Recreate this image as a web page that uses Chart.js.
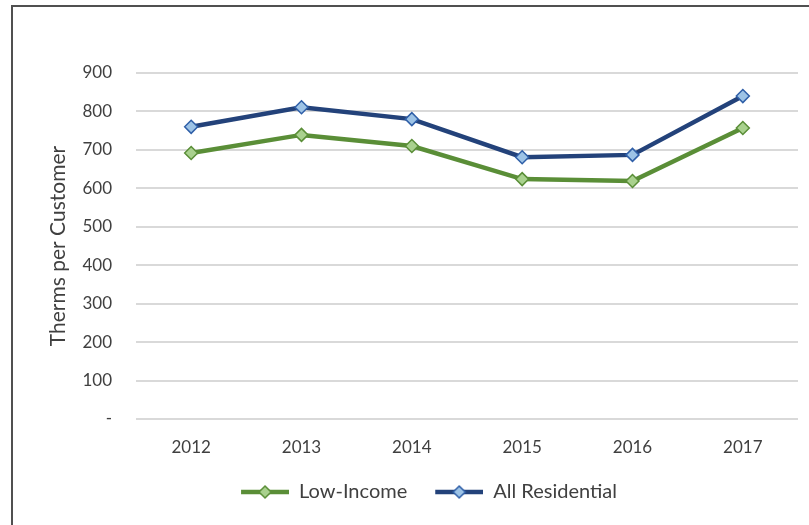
<!DOCTYPE html>
<html>
<head>
<meta charset="utf-8">
<script src="https://cdn.jsdelivr.net/npm/chart.js@4/dist/chart.umd.min.js"></script>
<style>
  html, body { margin: 0; padding: 0; background: #fff; overflow: hidden; }
  #wrap { position: relative; width: 809px; height: 525px; }
  #frame { position: absolute; left: 11px; top: 5px; width: 820px; height: 540px;
           border-left: 2px solid #505050; border-top: 2px solid #505050; box-sizing: border-box; }
  canvas { position: absolute; left: 0; top: 0; }
</style>
</head>
<body>
<div id="wrap">
  <div id="frame"></div>
  <canvas id="c" width="809" height="525"></canvas>
</div>
<script>
const years = ['2012', '2013', '2014', '2015', '2016', '2017'];
const lowIncome = [692, 739, 710, 624, 619, 757];
const allResidential = [760, 811, 780, 681, 687, 840];
const yTitle = 'Therms per Customer';

const FONT = 'Lato, "Open Sans", sans-serif';
const GREEN = '#5A8E37', GREEN_FILL = '#A9D18E';
const BLUE = '#23427A', BLUE_FILL = '#9DC3E6', BLUE_EDGE = '#2F5FA8';

function legendIcon(line, fill, edge) {
  const c = document.createElement('canvas');
  c.width = 66; c.height = 16;
  const g = c.getContext('2d');
  g.strokeStyle = line; g.lineWidth = 4.5;
  g.beginPath(); g.moveTo(18, 8); g.lineTo(66, 8); g.stroke();
  g.fillStyle = fill; g.strokeStyle = edge; g.lineWidth = 1.5;
  g.beginPath(); g.moveTo(42, 2); g.lineTo(48, 8); g.lineTo(42, 14); g.lineTo(36, 8); g.closePath();
  g.fill(); g.stroke();
  return c;
}
const icons = [legendIcon(GREEN, GREEN_FILL, GREEN), legendIcon(BLUE, BLUE_FILL, BLUE_EDGE)];

new Chart(document.getElementById('c'), {
  type: 'line',
  data: {
    labels: years,
    datasets: [
      { label: 'Low-Income', data: lowIncome, borderColor: GREEN, borderWidth: 4.5,
        pointStyle: 'rectRot', pointRadius: 6.5, pointBackgroundColor: GREEN_FILL,
        pointBorderColor: GREEN, pointBorderWidth: 1.5, tension: 0 },
      { label: 'All Residential', data: allResidential, borderColor: BLUE, borderWidth: 4.5,
        pointStyle: 'rectRot', pointRadius: 6.5, pointBackgroundColor: BLUE_FILL,
        pointBorderColor: BLUE_EDGE, pointBorderWidth: 1.5, tension: 0 }
    ]
  },
  options: {
    responsive: false,
    animation: false,
    layout: { padding: { top: 73, right: 11, left: 42, bottom: 13 } },
    plugins: {
      tooltip: { enabled: false },
      legend: {
        position: 'bottom',
        labels: {
          usePointStyle: true,
          pointStyleWidth: 66,
          color: '#404040',
          font: { family: FONT, size: 20 },
          padding: 10,
          generateLabels: (chart) => chart.data.datasets.map((d, i) => ({
            text: d.label, pointStyle: icons[i], datasetIndex: i,
            fontColor: '#404040', lineWidth: 0, strokeStyle: 'transparent', fillStyle: 'transparent'
          }))
        }
      }
    },
    scales: {
      x: {
        offset: true,
        grid: { display: false, drawTicks: false },
        border: { display: false },
        ticks: { color: '#404040', font: { family: FONT, size: 17 }, padding: 18 },
        afterFit: (s) => { s.height = 53; }
      },
      y: {
        min: 0, max: 900,
        grid: { color: '#D9D9D9', lineWidth: 2, drawTicks: false },
        border: { display: false },
        ticks: { stepSize: 100, color: '#404040', font: { family: FONT, size: 17 }, padding: 24,
                 callback: (v) => v === 0 ? '-' : v },
        title: { display: true, text: yTitle, color: '#404040',
                 font: { family: FONT, size: 21 }, padding: { top: 4, bottom: 4 } },
        afterFit: (s) => { s.width = 94; }
      }
    }
  }
});
</script>
</body>
</html>
